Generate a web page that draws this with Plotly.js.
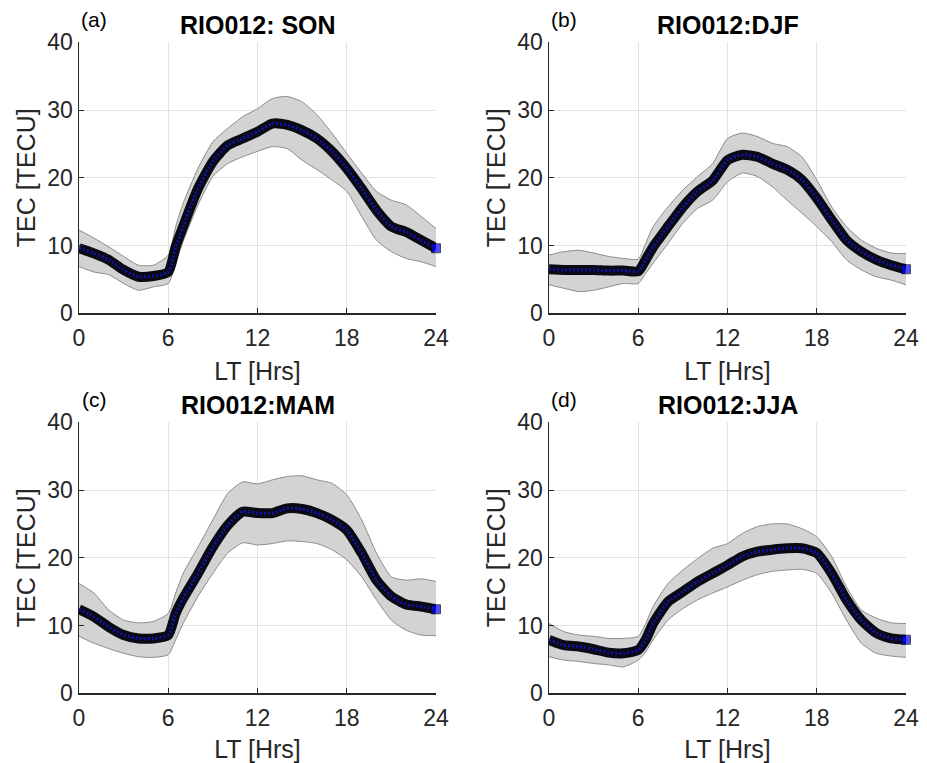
<!DOCTYPE html>
<html>
<head>
<meta charset="utf-8">
<script src="https://cdn.plot.ly/plotly-3.0.1.min.js"></script>
<style>html,body{margin:0;padding:0;background:#fff;}#chart{width:927px;height:763px;}</style>
</head>
<body>
<div id="chart"></div>
<script>
// Local time grid (hours)
const LT = [0,1,2,3,4,5,6,6.5,7,8,9,10,11,12,13,14,15,16,17,18,19,20,21,22,23,24];

// (a) SON
const sonMean  = [9.6,8.85,7.9,6.4,5.4,5.5,6.1,9.8,12.8,18.4,22.4,24.8,25.8,26.8,28.0,27.8,27.0,25.8,23.9,21.4,18.4,15.2,12.8,12.0,10.8,9.6];
const sonUpper = [12.3,11.1,9.8,8.4,7.1,7.1,8.6,12.8,16.2,21.4,25.3,27.3,29.0,30.2,31.7,32.0,31.2,29.3,26.6,23.6,20.7,18.0,16.7,16.0,14.3,12.5];
const sonLower = [6.9,6.1,5.7,4.4,3.4,3.9,4.4,7.4,10.6,16.0,20.2,22.1,23.1,23.9,24.6,24.3,22.6,21.2,19.7,18.0,14.3,10.8,9.1,8.1,7.6,6.9];

// (b) DJF
const djfMean  = [6.5,6.4,6.4,6.4,6.3,6.3,6.2,7.9,9.8,12.8,15.7,18.0,19.6,22.6,23.4,23.1,22.1,21.2,19.7,17.0,13.8,10.8,9.1,7.9,7.1,6.5];
const djfUpper = [8.6,9.1,9.3,8.9,8.4,8.1,8.0,10.3,12.8,15.7,18.2,20.2,22.1,25.8,26.6,26.1,25.1,24.6,23.1,19.7,15.7,12.8,10.8,9.6,8.9,8.8];
const djfLower = [4.2,3.7,3.2,3.4,3.9,4.4,4.4,5.9,7.4,10.3,13.3,15.5,16.7,19.4,20.7,20.2,18.7,16.7,14.8,12.8,10.6,7.9,6.4,5.4,4.9,4.2];

// (c) MAM
const mamMean  = [12.4,11.3,9.8,8.6,8.1,8.1,8.6,11.8,14.0,17.7,21.6,24.8,26.8,26.6,26.6,27.3,27.2,26.6,25.6,24.1,20.7,16.7,14.3,13.1,12.8,12.4];
const mamUpper = [16.2,14.8,12.3,10.8,10.4,10.6,11.8,14.8,17.7,21.6,25.6,29.5,31.2,30.9,31.5,32.0,32.1,31.5,31.0,29.3,25.6,20.7,17.2,16.7,16.9,16.5];
const mamLower = [8.4,7.4,6.6,5.9,5.4,5.3,5.7,7.9,10.3,14.3,17.7,20.7,22.2,21.9,22.1,22.5,22.4,22.1,21.2,19.7,17.2,13.8,10.8,9.3,8.6,8.5];

// (d) JJA
const jjaMean  = [7.9,7.1,6.9,6.5,6.0,5.9,6.4,7.9,10.3,13.5,15.0,16.5,17.7,18.9,20.2,20.9,21.2,21.4,21.4,20.7,17.7,13.8,10.8,8.9,8.1,7.9];
const jjaUpper = [10.3,9.1,8.6,8.4,8.1,8.1,8.4,10.3,12.8,16.2,18.2,19.9,21.4,22.1,23.6,24.6,25.0,25.0,24.3,23.1,20.2,15.7,12.3,11.1,10.4,10.3];
const jjaLower = [5.4,4.9,4.7,4.4,4.2,3.9,4.9,6.1,7.9,10.8,12.5,13.8,14.8,15.7,16.7,17.5,18.0,18.2,18.3,17.7,14.8,10.8,7.4,5.9,5.5,5.3];

const panelTitles = ["RIO012: SON","RIO012:DJF","RIO012:MAM","RIO012:JJA"];
const panelLetters = ["(a)","(b)","(c)","(d)"];
const xTicks = [0,6,12,18,24];
const yTicks = [0,10,20,30,40];
const xLabel = "LT [Hrs]";
const yLabel = "TEC [TECU]";

const panels = [
  {mean: sonMean, up: sonUpper, lo: sonLower},
  {mean: djfMean, up: djfUpper, lo: djfLower},
  {mean: mamMean, up: mamUpper, lo: mamLower},
  {mean: jjaMean, up: jjaUpper, lo: jjaLower}
];

const FONT = "Liberation Sans, Arial, Helvetica, sans-serif";
const traces = [];
panels.forEach((p, i) => {
  const xa = i === 0 ? "x" : "x" + (i + 1);
  const ya = i === 0 ? "y" : "y" + (i + 1);
  traces.push({x: LT, y: p.up, xaxis: xa, yaxis: ya, mode: "lines",
    line: {color: "#8a8a8a", width: 1, shape: "spline", smoothing: 0.6}, hoverinfo: "skip", showlegend: false});
  traces.push({x: LT, y: p.lo, xaxis: xa, yaxis: ya, mode: "lines", fill: "tonexty",
    fillcolor: "#d3d3d3", line: {color: "#8a8a8a", width: 1, shape: "spline", smoothing: 0.6}, hoverinfo: "skip", showlegend: false});
  const sizes = p.mean.map((v, k) => k === p.mean.length - 1 ? 9 : 0);
  traces.push({x: LT, y: p.mean, xaxis: xa, yaxis: ya, mode: "lines+markers", cliponaxis: false,
    line: {color: "#0a0a14", width: 10, shape: "spline", smoothing: 0.6},
    marker: {symbol: "square", size: sizes, color: "#0000ff", line: {color: "#000000", width: 1}},
    hoverinfo: "skip", showlegend: false});
  traces.push({x: LT, y: p.mean, xaxis: xa, yaxis: ya, mode: "lines",
    line: {color: "rgba(20,20,230,0.7)", width: 3, dash: "2px,2px", shape: "spline", smoothing: 0.6},
    hoverinfo: "skip", showlegend: false});
});

const xDomL = [79/927, 436/927], xDomR = [549/927, 906/927];
const yDomT = [(763-313.3)/763, (763-42.3)/763], yDomB = [(763-693.3)/763, (763-422.3)/763];

function xAxis(dom, anchor) {
  return {domain: dom, anchor: anchor, range: [0, 24], tickvals: xTicks, ticktext: xTicks.map(String),
    showgrid: true, gridcolor: "#e2e2e2", gridwidth: 1, zeroline: false,
    showline: true, linecolor: "#262626", linewidth: 1.5, ticks: "inside", ticklen: 5, tickcolor: "#262626",
    ticklabelstandoff: 4,
    tickfont: {family: FONT, size: 23, color: "#262626"},
    title: {text: xLabel, font: {family: FONT, size: 25, color: "#262626"}, standoff: 12}};
}
function yAxis(dom, anchor) {
  return {domain: dom, anchor: anchor, range: [0, 40], tickvals: yTicks, ticktext: yTicks.map(String),
    showgrid: true, gridcolor: "#e2e2e2", gridwidth: 1, zeroline: false,
    showline: true, linecolor: "#262626", linewidth: 1.5, ticks: "inside", ticklen: 5, tickcolor: "#262626",
    tickfont: {family: FONT, size: 23, color: "#262626"},
    title: {text: yLabel, font: {family: FONT, size: 25, color: "#262626"}, standoff: 4}};
}

const annotations = [];
const titleX = [(xDomL[0]+xDomL[1])/2, (xDomR[0]+xDomR[1])/2, (xDomL[0]+xDomL[1])/2, (xDomR[0]+xDomR[1])/2];
const titleY = [(763-25)/763, (763-25)/763, (763-405)/763, (763-405)/763];
const letterX = [94/927, 564/927, 94/927, 564/927];
const letterY = [(763-19)/763, (763-19)/763, (763-399)/763, (763-399)/763];
for (let i = 0; i < 4; i++) {
  annotations.push({text: "<b>" + panelTitles[i] + "</b>", xref: "paper", yref: "paper", x: titleX[i], y: titleY[i],
    xanchor: "center", yanchor: "middle", showarrow: false, font: {family: FONT, size: 25, color: "#000"}});
  annotations.push({text: panelLetters[i], xref: "paper", yref: "paper", x: letterX[i], y: letterY[i],
    xanchor: "center", yanchor: "middle", showarrow: false, font: {family: FONT, size: 21, color: "#000"}});
}

const layout = {
  width: 927, height: 763, margin: {l: 0, r: 0, t: 0, b: 0},
  paper_bgcolor: "#ffffff", plot_bgcolor: "#ffffff", showlegend: false,
  xaxis: xAxis(xDomL, "y"), yaxis: yAxis(yDomT, "x"),
  xaxis2: xAxis(xDomR, "y2"), yaxis2: yAxis(yDomT, "x2"),
  xaxis3: xAxis(xDomL, "y3"), yaxis3: yAxis(yDomB, "x3"),
  xaxis4: xAxis(xDomR, "y4"), yaxis4: yAxis(yDomB, "x4"),
  annotations: annotations
};

Plotly.newPlot("chart", traces, layout, {displayModeBar: false, staticPlot: true});
</script>
</body>
</html>
